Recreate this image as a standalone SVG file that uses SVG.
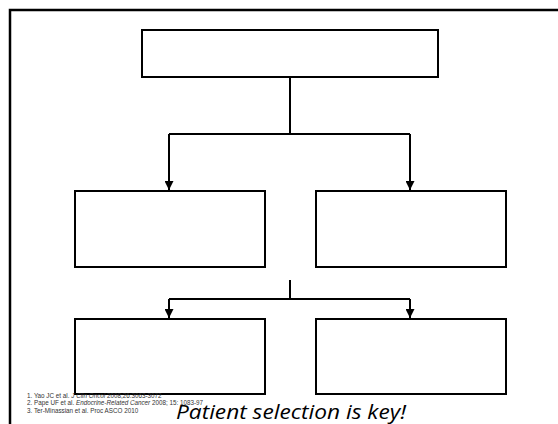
<svg xmlns="http://www.w3.org/2000/svg" width="558" height="424" viewBox="0 0 558 424">
<style>
.box{fill:#fff;stroke:#000;stroke-width:2}
.con{fill:none;stroke:#000;stroke-width:2}
.ref{font-family:"Liberation Sans",Arial,sans-serif;font-size:6.3px;fill:#333}
.key{font-family:"Open Sans","Liberation Sans",sans-serif;font-style:italic;font-size:20px;fill:#000}
</style>
<defs>
<marker id="ah" viewBox="0 0 10 10" refX="10" refY="5" markerWidth="9" markerHeight="9" markerUnits="userSpaceOnUse" orient="auto">
<path d="M0,0 L10,5 L0,10 z" fill="#000"/>
</marker>
</defs>
<rect x="0" y="0" width="558" height="424" fill="#fff"/>
<rect x="10" y="10" width="620" height="500" fill="none" stroke="#000" stroke-width="2.5"/>
<g id="connectors">
<path class="con" d="M290,77 V134 M169,134 H410 M169,134 V190" marker-end="url(#ah)"/>
<path class="con" d="M410,134 V190" marker-end="url(#ah)"/>
<path class="con" d="M290,280 V299 M169,299 H410 M169,299 V318" marker-end="url(#ah)"/>
<path class="con" d="M410,299 V318" marker-end="url(#ah)"/>
</g>
<g id="top"><rect class="box" x="142" y="30" width="296" height="47"/></g>
<g id="midLeft"><rect class="box" x="75" y="191" width="190" height="76"/></g>
<g id="midRight"><rect class="box" x="316" y="191" width="190" height="76"/></g>
<g id="botLeft"><rect class="box" x="75" y="319" width="190" height="75"/></g>
<g id="botRight"><rect class="box" x="316" y="319" width="190" height="75"/></g>
<g id="refs">
<text class="ref" x="27" y="398">1. Yao JC et al. <tspan font-style="italic">J Clin Oncol</tspan> 2008;26:3063-3072</text>
<text class="ref" x="27" y="405">2. Pape UF et al. <tspan font-style="italic">Endocrine-Related Cancer</tspan> 2008; 15: 1083-97</text>
<text class="ref" x="27" y="413">3. Ter-Minassian et al. Proc ASCO 2010</text>
</g>
<text class="key" x="176" y="419" textLength="230" lengthAdjust="spacingAndGlyphs">Patient selection is key!</text>
</svg>
